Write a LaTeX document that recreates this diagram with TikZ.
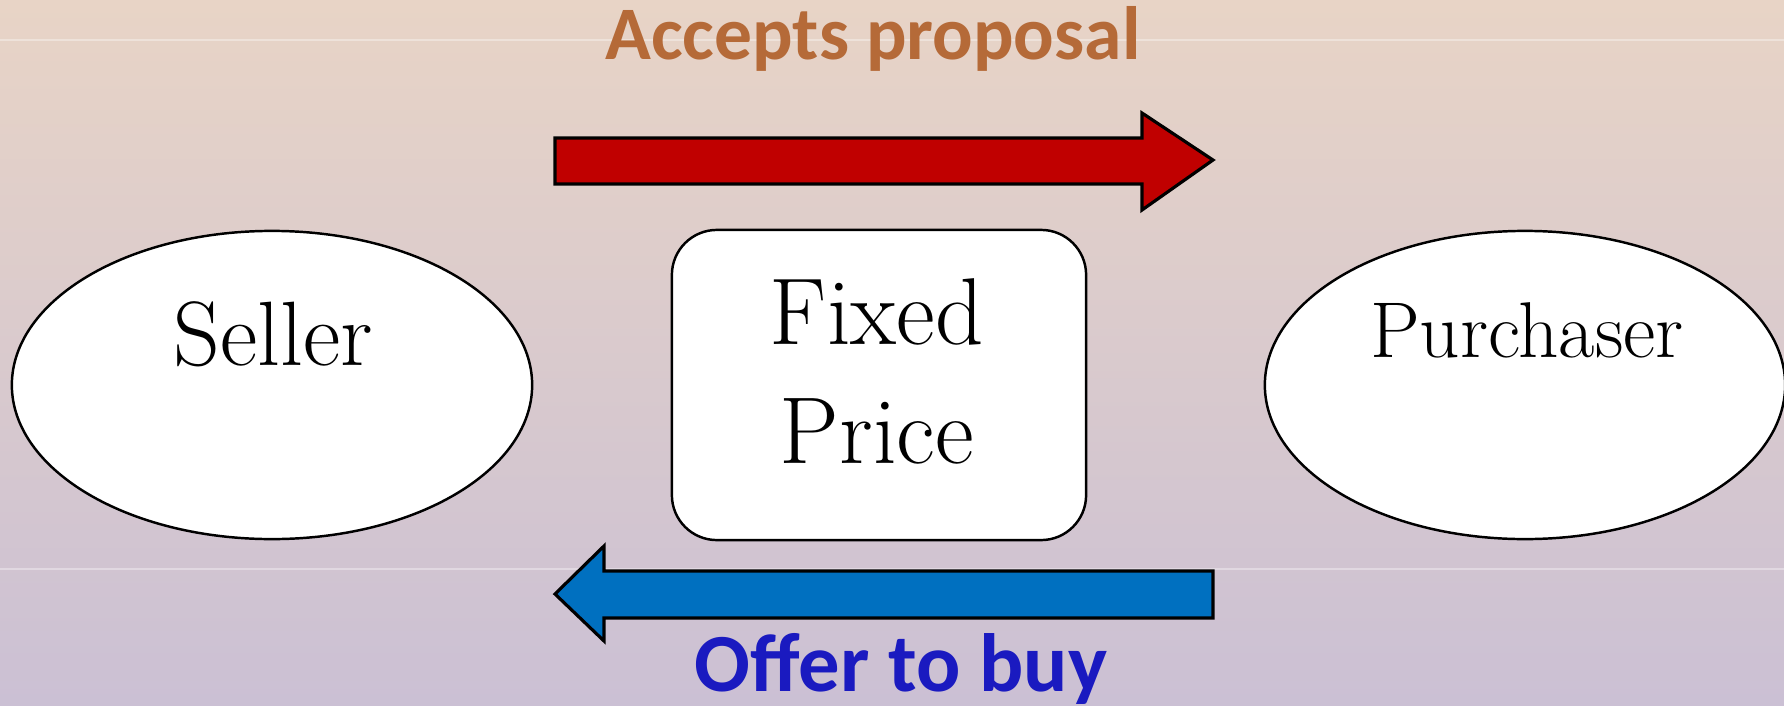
\documentclass[tikz,border=0pt]{standalone}
\usepackage{fontspec}
\newfontfamily\calibri{Carlito}
\usetikzlibrary{shapes.geometric}

\definecolor{bgtop}{HTML}{E8D4C6}
\definecolor{bgmid}{HTML}{DCC2C2}
\definecolor{bgbot}{HTML}{CBC0D4}
\definecolor{acceptcol}{HTML}{B56A38}
\definecolor{offercol}{HTML}{1A1AC0}
\definecolor{redarrow}{HTML}{C00000}
\definecolor{bluearrow}{HTML}{0070C0}

\tikzset{
  party/.style={draw, ellipse, fill=white, line width=0.7pt,
    minimum width=5.2cm, minimum height=3.08cm, inner sep=0pt},
  pricebox/.style={draw, rectangle, rounded corners=0.45cm, fill=white, line width=0.7pt,
    minimum width=4.14cm, minimum height=3.1cm, inner sep=0pt},
  serifword/.style={anchor=base, inner sep=0pt},
  banner/.style={anchor=base, inner sep=0pt, font=\calibri\bfseries},
  blockarrow/.style={draw=black, line width=0.9pt, line join=miter},
}

\begin{document}
\begin{tikzpicture}[x=0.01cm, y=-0.01cm]
  \useasboundingbox (0,0) rectangle (1784,706);
  % backdrop
  \shade[top color=bgtop, middle color=bgmid, bottom color=bgbot] (0,0) rectangle (1784,706);
  \draw[white, opacity=0.35, line width=0.4pt] (0,40) -- (1784,40);
  \draw[white, opacity=0.35, line width=0.4pt] (0,569) -- (1784,569);

  % the two parties and the price
  \node[party] (seller) at (272,385) {};
  \node[party] (purchaser) at (1525,385) {};
  \node[pricebox] (price) at (879,385) {};

  \node[serifword, font=\fontsize{26}{30}\selectfont] (sellertxt) at (273,365) {Seller};
  \node[serifword, font=\fontsize{22.5}{27}\selectfont] (purchtxt) at (1527,357) {Purchaser};
  \node[serifword, font=\fontsize{27}{32}\selectfont] (fixedtxt) at (877,344) {Fixed};
  \node[serifword, font=\fontsize{27}{32}\selectfont] (pricetxt) at (877,463) {Price};

  % block arrows
  \filldraw[blockarrow, fill=redarrow]
    (555,138) -- (1142,138) -- (1142,113) -- (1213,160)
    -- (1142,210) -- (1142,184) -- (555,184) -- cycle;
  \filldraw[blockarrow, fill=bluearrow]
    (1213,571) -- (604,571) -- (604,546) -- (555,594)
    -- (604,641) -- (604,618) -- (1213,618) -- cycle;

  % captions
  \node[banner, text=acceptcol, font=\calibri\bfseries\fontsize{21.5}{26}\selectfont] (accept) at (873,59) {Accepts proposal};
  \node[banner, text=offercol, font=\calibri\bfseries\fontsize{23.5}{28}\selectfont] (offer) at (901,691) {Offer to buy};
\end{tikzpicture}
\end{document}
